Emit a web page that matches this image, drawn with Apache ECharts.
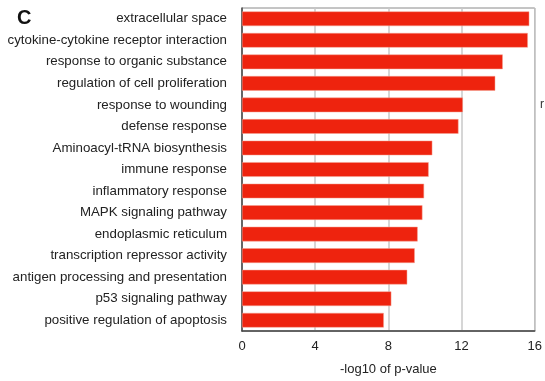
<!DOCTYPE html>
<html>
<head>
<meta charset="utf-8">
<script src="https://cdn.jsdelivr.net/npm/echarts@6/dist/echarts.min.js"></script>
<style>
  html, body { margin: 0; padding: 0; background: #fff; }
  #chart { width: 545px; height: 381px; }
</style>
</head>
<body>
<div id="chart"></div>
<script>
// Enriched terms, top to bottom
const terms = [
  'extracellular space',
  'cytokine-cytokine receptor interaction',
  'response to organic substance',
  'regulation of cell proliferation',
  'response to wounding',
  'defense response',
  'Aminoacyl-tRNA biosynthesis',
  'immune response',
  'inflammatory response',
  'MAPK signaling pathway',
  'endoplasmic reticulum',
  'transcription repressor activity',
  'antigen processing and presentation',
  'p53 signaling pathway',
  'positive regulation of apoptosis'
];
// -log10 of p-value per term
const negLogP = [15.7, 15.62, 14.25, 13.84, 12.07, 11.83, 10.4, 10.2, 9.95, 9.86, 9.6, 9.44, 9.03, 8.16, 7.75];
// x axis ticks
const xTicks = [0, 4, 8, 12, 16];

const chart = echarts.init(document.getElementById('chart'), null, { renderer: 'canvas' });
const font = '"Liberation Sans", Arial, Helvetica, sans-serif';

chart.setOption({
  animation: false,
  textStyle: { fontFamily: font },
  grid: {
    left: 242, right: 7, top: 8, bottom: 50,
    show: true, borderColor: '#8a8a8a', borderWidth: 1, backgroundColor: 'transparent'
  },
  graphic: [
    { type: 'text', left: 17, top: 8, style: { text: 'C', font: 'bold 20px ' + font, fill: '#111' } },
    { type: 'text', left: 540, top: 99, style: { text: 'r', font: '12px ' + font, fill: '#333' } }
  ],
  xAxis: {
    type: 'value',
    min: xTicks[0],
    max: xTicks[xTicks.length - 1],
    interval: xTicks[1] - xTicks[0],
    name: '-log10 of p-value',
    nameLocation: 'middle',
    nameGap: 32,
    nameTextStyle: { fontSize: 13, color: '#222', fontFamily: font },
    axisLine: { show: true, lineStyle: { color: '#444', width: 1.5 } },
    axisTick: { show: false },
    axisLabel: { fontSize: 13, color: '#222', margin: 9, fontFamily: font },
    splitLine: { show: true, lineStyle: { color: '#c8c8c8', width: 1.5 } }
  },
  yAxis: {
    type: 'category',
    inverse: true,
    data: terms,
    axisLine: { show: true, lineStyle: { color: '#444', width: 1.5 } },
    axisTick: { show: false },
    axisLabel: { fontSize: 13.3, color: '#222', margin: 15, fontFamily: font },
    splitLine: { show: false }
  },
  series: [{
    type: 'bar',
    data: negLogP,
    barCategoryGap: '32%',
    itemStyle: { color: '#ee230e', borderColor: '#f4a090', borderWidth: 0.5 },
    silent: true
  }]
});
</script>
</body>
</html>
